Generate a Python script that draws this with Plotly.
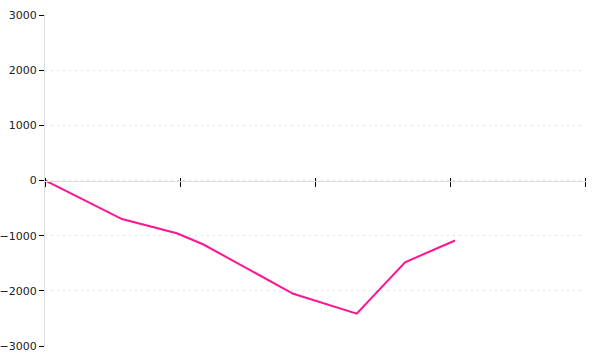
import plotly.graph_objects as go

x_values = [0, 0.570, 0.976, 1.170, 1.839, 2.309, 2.667, 3.037]
y_values = [0, -699, -957, -1156, -2053, -2415, -1482, -1087]
x_ticks = [0, 1, 2, 3, 4]
y_ticks = [-3000, -2000, -1000, 0, 1000, 2000, 3000]
y_tick_labels = ["\u22123000", "\u22122000", "\u22121000", "0", "1000", "2000", "3000"]

fig = go.Figure()
fig.add_trace(go.Scatter(
    x=x_values, y=y_values, mode="lines",
    line=dict(color="#ff1493", width=2),
    hoverinfo="skip", showlegend=False,
))
# empty trace so the overlaying top-tick axis is drawn
fig.add_trace(go.Scatter(x=[None], y=[None], xaxis="x2", mode="lines",
                         hoverinfo="skip", showlegend=False))

font = dict(family="DejaVu Sans", size=11, color="#222222")

fig.update_layout(
    width=600, height=360,
    margin=dict(l=45, r=15, t=15, b=14, pad=0),
    paper_bgcolor="white", plot_bgcolor="white",
    showlegend=False,
    xaxis=dict(
        range=[0, 4], tickvals=x_ticks, showticklabels=False,
        anchor="free", position=0.5, side="bottom",
        ticks="outside", ticklen=5, tickwidth=1, tickcolor="#000000",
        showline=True, linecolor="#dddddd", linewidth=1,
        showgrid=False, zeroline=False, fixedrange=True, automargin=False,
    ),
    xaxis2=dict(
        range=[0, 4], tickvals=x_ticks, showticklabels=False,
        overlaying="x", anchor="free", position=0.5, side="top",
        ticks="outside", ticklen=3, tickwidth=1, tickcolor="#000000",
        showline=False, showgrid=False, zeroline=False, fixedrange=True,
        automargin=False,
    ),
    yaxis=dict(
        range=[-3000, 3000], tickvals=y_ticks, ticktext=y_tick_labels,
        ticks="outside", ticklen=5, tickwidth=1, tickcolor="#000000",
        showline=True, linecolor="#dddddd", linewidth=1,
        showgrid=True, gridcolor="#e2e2e2", griddash="2px,4px", gridwidth=1,
        zeroline=False, tickfont=font, fixedrange=True, automargin=False,
    ),
)

fig.write_html("out.html", config={"displayModeBar": False})
